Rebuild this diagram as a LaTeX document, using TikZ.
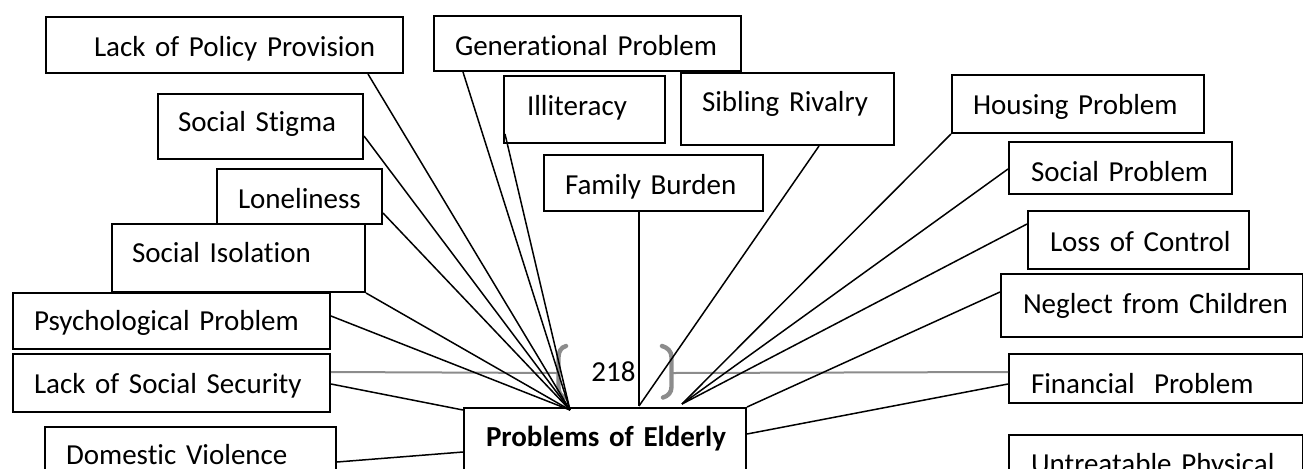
\documentclass[tikz,border=0pt]{standalone}
\usepackage{fontspec}
\setmainfont{Carlito}[Ligatures=NoCommon]
\usetikzlibrary{calc}
\definecolor{gline}{RGB}{140,140,140}
\newcommand{\bx}[8]{%
  \pgfmathsetmacro{\bxsep}{(#6-#2)*0.5}%
  \pgfmathsetmacro{\bxw}{(#4-#2)*0.5-2*\bxsep}%
  \pgfmathsetmacro{\bxh}{(#7-#3)*0.5}%
  \pgfmathsetmacro{\bxd}{(#5-#7)*0.5}%
  \node[box, anchor=base west, inner xsep=\bxsep pt, text width=\bxw pt,
        text height=\bxh pt, text depth=\bxd pt] (#1) at (#2,#7) {\mbox{#8}};%
}
\begin{document}
\begin{tikzpicture}[x=0.5pt,y=-0.5pt,
  box/.style={draw, line width=1pt, rectangle, inner ysep=0pt, align=left,
              font=\fontsize{14.5}{17}\selectfont},
  conn/.style={line width=0.75pt, black},
  glin/.style={line width=1pt, gline},
  brk/.style={line width=2.2pt, gline, line cap=round}]
\useasboundingbox (0,0) rectangle (1303,468);
\clip (0,0) rectangle (1303,468);

% boxes: name, left, top, right, bottom, text left, baseline, text
\bx{lpp}{45}{17}{402}{73}{93}{56}{Lack of Policy Provision}
\bx{stig}{157}{94}{362}{159}{177}{131}{Social Stigma}
\bx{lone}{216}{169}{381}{224}{237}{208}{Loneliness}
\bx{siso}{111}{224}{364}{292}{131}{262}{Social Isolation}
\bx{psych}{12}{293}{329}{349}{33}{330}{Psychological Problem}
\bx{lss}{12}{354}{329}{412}{33}{393}{Lack of Social Security}
\bx{dv}{44}{427}{335}{520}{65}{464}{Domestic Violence}
\bx{gen}{433}{16}{740}{71}{454}{55}{Generational Problem}
\bx{illit}{503}{76}{664}{143}{526}{115}{Illiteracy}
\bx{sib}{680}{73}{893}{145}{701}{111}{Sibling Rivalry}
\bx{fam}{543}{155}{762}{211}{564}{194}{Family Burden}
\bx{house}{951}{75}{1203}{133}{972}{114}{Housing Problem}
\bx{socp}{1008}{142}{1231}{194}{1030}{181}{Social Problem}
\bx{loc}{1027}{211}{1248}{269}{1049}{251}{Loss of Control}
\bx{neg}{1000}{274}{1302}{337}{1022}{313}{Neglect from Children}
\bx{fin}{1008}{354}{1302}{403}{1030}{393}{Financial\ \ Problem}
\bx{untr}{1008}{435}{1302}{530}{1030}{473}{Untreatable Physical}
\bx{poe}{463}{408}{745}{530}{485}{446}{\bfseries Problems of Elderly}

\node[font=\fontsize{14.5}{17}\selectfont, inner sep=0pt, anchor=base] (pg) at (613.5,381) {218};

% gray line and brackets
\draw[glin] ($(lss.north east)+(0,19)$) -- ($(pg.base)+(-56,-8)$);
\draw[glin] ($(pg.base)+(59,-8)$) -- ($(fin.north west)+(0,19)$);
\draw[brk] (566,346) to[out=195,in=90] (558.5,357) -- (558.5,387) to[out=270,in=165] (565,397.5);
\draw[brk] (662,346) to[out=-15,in=90] (671.5,357) -- (671.5,387) to[out=270,in=15] (663,397.5);

% convergence points
\coordinate (cL) at ($(poe.north west)+(107,3)$);
\coordinate (cM) at ($(poe.north west)+(176,-1)$);
\coordinate (cR) at ($(poe.north west)+(219,-3)$);

% connectors
\draw[conn] ($(lpp.south west)+(323,0)$) -- (cL);
\draw[conn] ($(stig.south east)+(0,-24)$) -- (cL);
\draw[conn] ($(lone.south east)+(0,-12)$) -- (cL);
\draw[conn] (siso.south east) -- (cL);
\draw[conn] ($(psych.north east)+(0,24)$) -- (cL);
\draw[conn] ($(gen.south west)+(30,0)$) -- (cL);
\draw[conn] ($(illit.south west)+(2,-10)$) -- (cL);
\draw[conn] ($(lss.north east)+(0,31)$) -- ($(poe.north west)+(0,3)$);
\draw[conn] ($(dv.north east)+(0,36)$) -- ($(poe.north west)+(0,45)$);
\draw[conn] ($(fam.south west)+(96,0)$) -- (cM);
\draw[conn] ($(sib.south west)+(139,0)$) -- (cM);
\draw[conn] (house.south west) -- (cR);
\draw[conn] ($(socp.north west)+(0,28)$) -- (cR);
\draw[conn] ($(loc.north west)+(0,14)$) -- (cR);
\draw[conn] ($(neg.north west)+(0,19)$) -- (poe.north east);
\draw[conn] ($(fin.north west)+(0,31)$) -- ($(poe.north east)+(0,27)$);
\end{tikzpicture}
\end{document}
